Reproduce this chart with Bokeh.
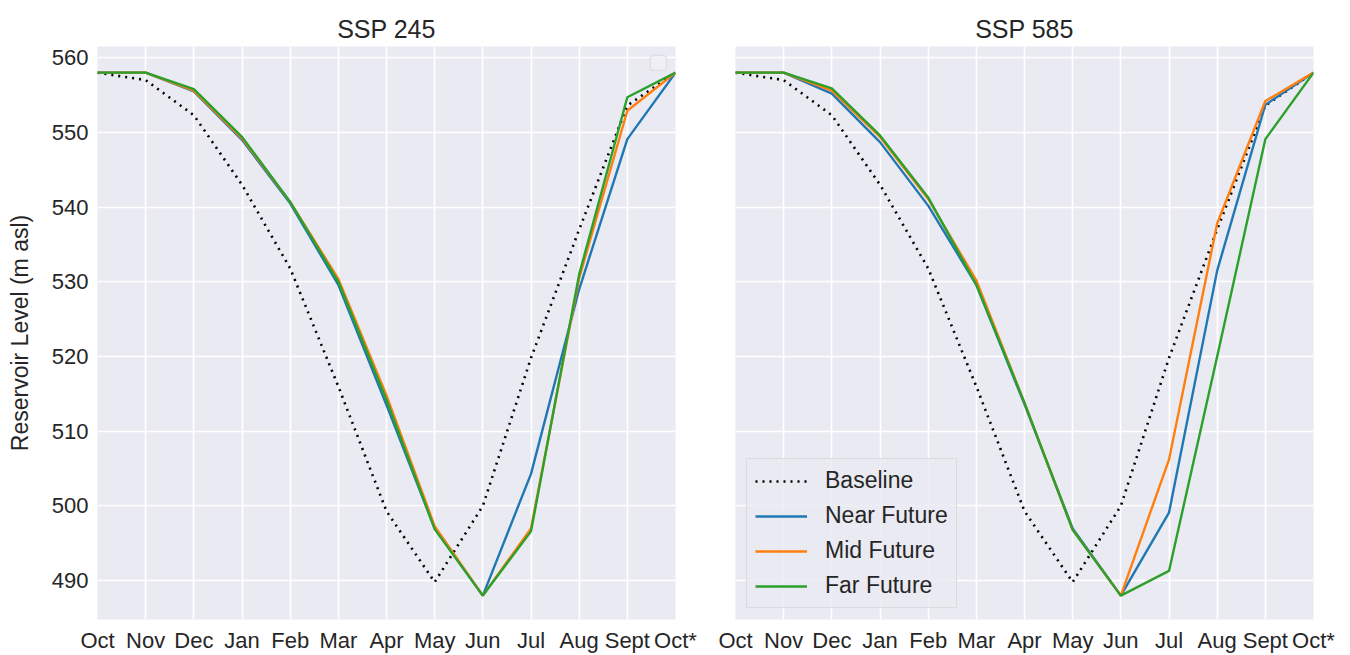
from bokeh.plotting import figure
from bokeh.layouts import row
from bokeh.models import FixedTicker, Range1d, Legend, LegendItem, BoxAnnotation
from bokeh.embed import file_html
from bokeh.resources import INLINE

months = ["Oct", "Nov", "Dec", "Jan", "Feb", "Mar", "Apr", "May", "Jun", "Jul", "Aug", "Sept", "Oct*"]
y_ticks = [490, 500, 510, 520, 530, 540, 550, 560]

baseline = [558.0, 557.0, 552.3, 543.0, 531.8, 516.0, 499.3, 489.8, 500.0, 519.8, 537.0, 553.6, 558.0]

ssp245_near = [558.0, 558.0, 555.5, 549.0, 540.5, 529.6, 513.5, 497.0, 488.0, 504.3, 529.0, 549.1, 558.0]
ssp245_mid = [558.0, 558.0, 555.6, 549.2, 540.7, 530.4, 514.8, 497.3, 488.0, 497.0, 530.5, 552.9, 558.0]
ssp245_far = [558.0, 558.0, 555.8, 549.4, 540.7, 530.0, 514.2, 496.9, 488.0, 496.6, 531.0, 554.7, 558.0]

ssp585_near = [558.0, 558.0, 555.2, 548.7, 540.2, 529.6, 513.6, 497.0, 488.0, 499.1, 531.5, 553.7, 558.0]
ssp585_mid = [558.0, 558.0, 555.6, 549.4, 541.1, 530.2, 513.8, 496.8, 488.0, 506.2, 537.8, 554.2, 558.0]
ssp585_far = [558.0, 558.0, 555.9, 549.6, 541.3, 529.6, 513.8, 496.8, 488.0, 491.3, 520.0, 549.1, 558.0]

FONT = "Liberation Sans"
TXT = "#262626"
BG = "#eaeaf2"
C_NEAR, C_MID, C_FAR = "#1f77b4", "#ff7f0e", "#2ca02c"

x = list(range(len(months)))


def make_fig(title, near, mid, far, width, bl, br, show_y):
    p = figure(width=width, height=655, output_backend="svg", toolbar_location=None,
               x_range=Range1d(0, len(months) - 1), y_range=Range1d(484.8, 561.5),
               min_border_left=bl, min_border_right=br, min_border_top=46, min_border_bottom=35)
    p.title.text = title
    p.title.align = "center"
    p.title.text_font = FONT
    p.title.text_font_size = "25px"
    p.title.text_font_style = "normal"
    p.title.text_color = TXT
    p.title.standoff = 8
    p.background_fill_color = BG
    p.border_fill_color = "white"
    p.outline_line_color = None

    p.xaxis.ticker = FixedTicker(ticks=x)
    p.xaxis.major_label_overrides = {i: m for i, m in enumerate(months)}
    p.yaxis.ticker = FixedTicker(ticks=y_ticks)
    for ax in (p.xaxis, p.yaxis):
        ax.axis_line_color = None
        ax.major_tick_line_color = None
        ax.minor_tick_line_color = None
        ax.major_tick_out = 0
        ax.major_tick_in = 0
        ax.major_label_text_font = FONT
        ax.major_label_text_font_size = "22px"
        ax.major_label_text_color = TXT
    p.xaxis.major_label_standoff = 8
    p.yaxis.major_label_standoff = 9
    p.xgrid.ticker = FixedTicker(ticks=x)
    p.ygrid.ticker = FixedTicker(ticks=y_ticks)
    p.grid.grid_line_color = "white"
    p.grid.grid_line_width = 1.6

    if show_y:
        p.yaxis.axis_label = "Reservoir Level (m asl)"
        p.yaxis.axis_label_text_font = FONT
        p.yaxis.axis_label_text_font_size = "23px"
        p.yaxis.axis_label_text_font_style = "normal"
        p.yaxis.axis_label_text_color = TXT
        p.yaxis.axis_label_standoff = 16
    else:
        p.yaxis.visible = False

    r_base = p.line(x, baseline, line_color="black", line_width=2.6, line_dash="2 5")
    r_near = p.line(x, near, line_color=C_NEAR, line_width=2.4)
    r_mid = p.line(x, mid, line_color=C_MID, line_width=2.4)
    r_far = p.line(x, far, line_color=C_FAR, line_width=2.4)
    return p, (r_base, r_near, r_mid, r_far)


p1, _ = make_fig("SSP 245", ssp245_near, ssp245_mid, ssp245_far, 705, 97, 30, True)
p2, rs = make_fig("SSP 585", ssp585_near, ssp585_mid, ssp585_far, 645, 30, 37, False)

# empty legend frame (as in the original figure)
p1.add_layout(BoxAnnotation(left=11.48, right=11.81, bottom=558.3, top=560.3,
                            fill_color="#f0f0f5", fill_alpha=0.9, line_color="#bdbdbd",
                            line_width=1.2, border_radius=3))

labels = ["Baseline", "Near Future", "Mid Future", "Far Future"]
legend = Legend(items=[LegendItem(label=l, renderers=[r]) for l, r in zip(labels, rs)],
                location="bottom_left", margin=11, padding=8,
                label_text_font=FONT, label_text_font_size="23px", label_text_color=TXT,
                glyph_width=52, glyph_height=24, label_height=24, spacing=8,
                label_standoff=18,
                background_fill_color=BG, background_fill_alpha=0.85,
                border_line_color="#cccccc", border_line_width=1)
p2.add_layout(legend)

layout = row(p1, p2)
open("out.html", "w").write(file_html(layout, INLINE))
